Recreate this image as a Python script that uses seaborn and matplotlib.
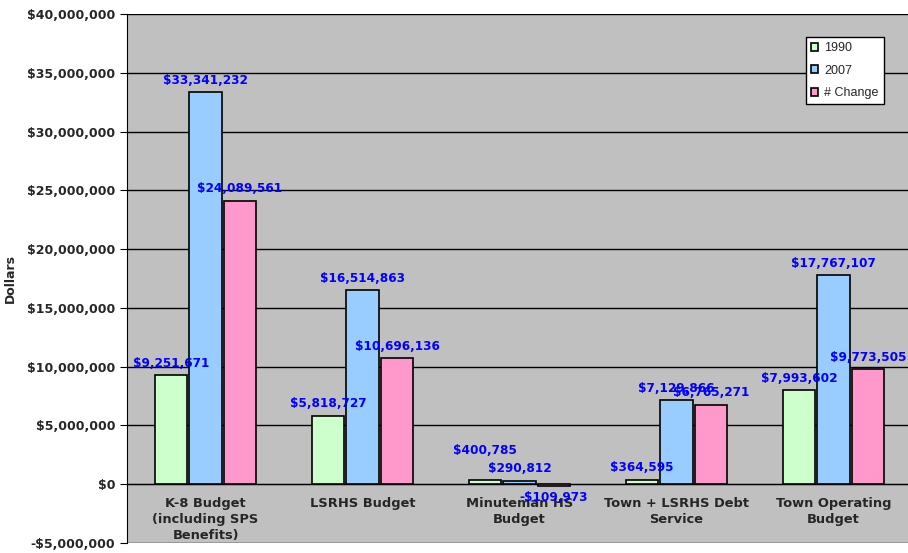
import numpy as np
import pandas as pd
import matplotlib
matplotlib.use("Agg")
import matplotlib.pyplot as plt
import matplotlib.ticker as mticker
import seaborn as sns

# --- datos ---
categorias = ["K-8 Budget\n(including SPS\nBenefits)", "LSRHS Budget",
              "Minuteman HS\nBudget", "Town + LSRHS Debt\nService",
              "Town Operating\nBudget"]
series = ["1990", "2007", "# Change"]
valores_1990 = [9251671, 5818727, 400785, 364595, 7993602]
valores_2007 = [33341232, 16514863, 290812, 7129866, 17767107]
valores_cambio = [24089561, 10696136, -109973, 6765271, 9773505]
colores = ["#CCFFCC", "#99CCFF", "#FF99CC"]

df = pd.DataFrame({
    "categoria": categorias * 3,
    "serie": [s for s in series for _ in categorias],
    "valor": valores_1990 + valores_2007 + valores_cambio,
})

sns.set_style("white")
plt.rcParams["font.family"] = ["DejaVu Sans"]

fig = plt.figure(figsize=(9.08, 5.53), dpi=100)
W, H = 908, 553
ax = fig.add_axes([127 / W, 10 / H, 800 / W, 529 / H])
ax.set_facecolor("#C0C0C0")

sns.barplot(data=df, x="categoria", y="valor", hue="serie", order=categorias,
            hue_order=series, palette=colores, width=0.66, gap=0.06,
            edgecolor="black", linewidth=1.2, saturation=1, ax=ax, zorder=3)

# etiquetas de datos
def fmt(v):
    return f"-${abs(v):,.0f}" if v < 0 else f"${v:,.0f}"

etiquetas = []
for cont in ax.containers:
    vals = [r.get_height() for r in cont]
    etiquetas.append(ax.bar_label(cont, labels=[fmt(v) for v in vals], padding=4,
                                  color="#0000FF", fontweight="bold",
                                  fontsize=8.7, zorder=4))
# Excel subió un poco la etiqueta de Minuteman 1990
etiquetas[0][2].xyann = (0, 16)

# ejes
ax.set_ylim(-5e6, 40e6)
ax.set_xlim(-0.5, -0.5 + 800 / 157)
ax.yaxis.set_major_locator(mticker.MultipleLocator(5e6))
ax.yaxis.set_major_formatter(mticker.FuncFormatter(
    lambda v, p: f"-${abs(v):,.0f}" if v < 0 else f"${v:,.0f}"))
ax.grid(axis="y", color="black", linewidth=1, zorder=0)
ax.set_axisbelow(True)

ax.spines["bottom"].set_position(("data", 0))
ax.spines["bottom"].set_color("black")
ax.spines["left"].set_color("black")
ax.spines["top"].set_visible(False)
ax.spines["right"].set_visible(False)

ax.set_xticks(range(len(categorias)))
ax.set_xticklabels(categorias, fontweight="bold", fontsize=9.4, linespacing=1.3)
ax.tick_params(axis="x", length=0, pad=9)
ax.set_xticks(np.arange(0.5, len(categorias)), minor=True)
ax.tick_params(axis="x", which="minor", length=4, direction="out", color="black")
ax.tick_params(axis="y", length=5, direction="out", color="black", left=True,
               labelsize=9)
for lbl in ax.get_yticklabels():
    lbl.set_fontweight("bold")

ax.set_xlabel("")
ax.set_ylabel("Dollars", fontweight="bold", fontsize=9, labelpad=7)

# leyenda
h, l = ax.get_legend_handles_labels()
ax.legend(h, l, loc="upper right", bbox_to_anchor=(0.946, 0.9565), frameon=True,
          fancybox=False, edgecolor="black", facecolor="white", framealpha=1,
          prop={"family": "Liberation Sans", "size": 9},
          handlelength=0.6, handleheight=0.6, handletextpad=0.5,
          labelspacing=0.85, borderpad=0.4, borderaxespad=0)

fig.savefig("out.png", dpi=100)
